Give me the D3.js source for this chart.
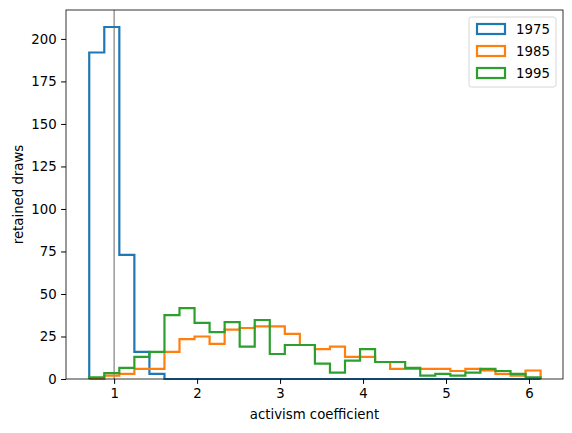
<!DOCTYPE html>
<html><head><meta charset="utf-8">
<script src="https://cdn.jsdelivr.net/npm/d3@7"></script>
<style>body{margin:0;background:#fff}text{font-family:"DejaVu Sans",sans-serif}</style>
</head><body><svg id="c" width="572" height="433"></svg>
<script>
const binStart = 0.70, binEnd = 6.14, nBins = 30;
const years = ["1975","1985","1995"];
const colors = ["#1f77b4","#ff7f0e","#2ca02c"];
const v1975 = [192,207,73,16,3,0,0,0,0,0,0,0,0,0,0,0,0,0,0,0,0,0,0,0,0,0,0,0,0,0];
const v1985 = [0,2,3,6,6,16,23.5,25,20.6,29,30,31,31,26.5,20,17.6,19,13,13,10,6,6,6,6,4.7,6,5,3,2,5];
const v1995 = [1,3.5,6.5,13,16,37.6,41.7,33,27.6,33.5,19,34.7,14.7,20,20,9,3.7,10.8,17.6,10,10,6.5,2,3,2,3.7,6,4.7,3,1];
const series = [v1975, v1985, v1995];
const xTicks = [1,2,3,4,5,6];
const yTicks = [0,25,50,75,100,125,150,175,200];

const svg = d3.select("#c");
const L=66,R=563,T=10,B=379;
const FS=13.3;
const x = d3.scaleLinear().domain([0.42,6.41]).range([L,R]);
const y = d3.scaleLinear().domain([0,217]).range([B,T]);
const w = (binEnd-binStart)/nBins;

svg.append("line").attr("x1",x(1)).attr("x2",x(1)).attr("y1",T).attr("y2",B).attr("stroke","#808080").attr("stroke-width",1.2);

series.forEach((vals,si)=>{
  const pts=[[binStart,0]];
  vals.forEach((v,i)=>{pts.push([binStart+i*w,v]);pts.push([binStart+(i+1)*w,v]);});
  pts.push([binEnd,0]);
  svg.append("path").attr("d",d3.line().x(d=>x(d[0])).y(d=>y(d[1]))(pts))
    .attr("fill","none").attr("stroke",colors[si]).attr("stroke-width",2.2).attr("stroke-linejoin","miter");
});

const xa = svg.append("g").attr("transform",`translate(0,${B})`).call(d3.axisBottom(x).tickValues(xTicks).tickSize(4.9).tickPadding(4.5).tickFormat(d3.format("d")));
const ya = svg.append("g").attr("transform",`translate(${L},0)`).call(d3.axisLeft(y).tickValues(yTicks).tickSize(4.9).tickPadding(4.5));
[xa,ya].forEach(a=>{a.select(".domain").remove();a.selectAll("text").attr("font-size",FS).attr("fill","#000");a.selectAll("line").attr("stroke","#000");});
svg.append("rect").attr("x",L).attr("y",T).attr("width",R-L).attr("height",B-T).attr("fill","none").attr("stroke","#000").attr("stroke-width",0.8);

svg.append("text").attr("x",(L+R)/2).attr("y",419).attr("text-anchor","middle").attr("font-size",FS).text("activism coefficient");
svg.append("text").attr("transform",`translate(23,${(T+B)/2}) rotate(-90)`).attr("text-anchor","middle").attr("font-size",FS).text("retained draws");

const lg = svg.append("g");
lg.append("rect").attr("x",469).attr("y",17).attr("width",87).attr("height",70).attr("rx",2.5).attr("fill","#fff").attr("stroke","#ccc").attr("stroke-width",0.8);
years.forEach((yr,i)=>{
  const yy=29+i*22;
  lg.append("rect").attr("x",477).attr("y",yy-5).attr("width",28).attr("height",10).attr("fill","none").attr("stroke",colors[i]).attr("stroke-width",2.2);
  lg.append("text").attr("x",516).attr("y",yy+5).attr("font-size",FS).text(yr);
});
</script></body></html>
